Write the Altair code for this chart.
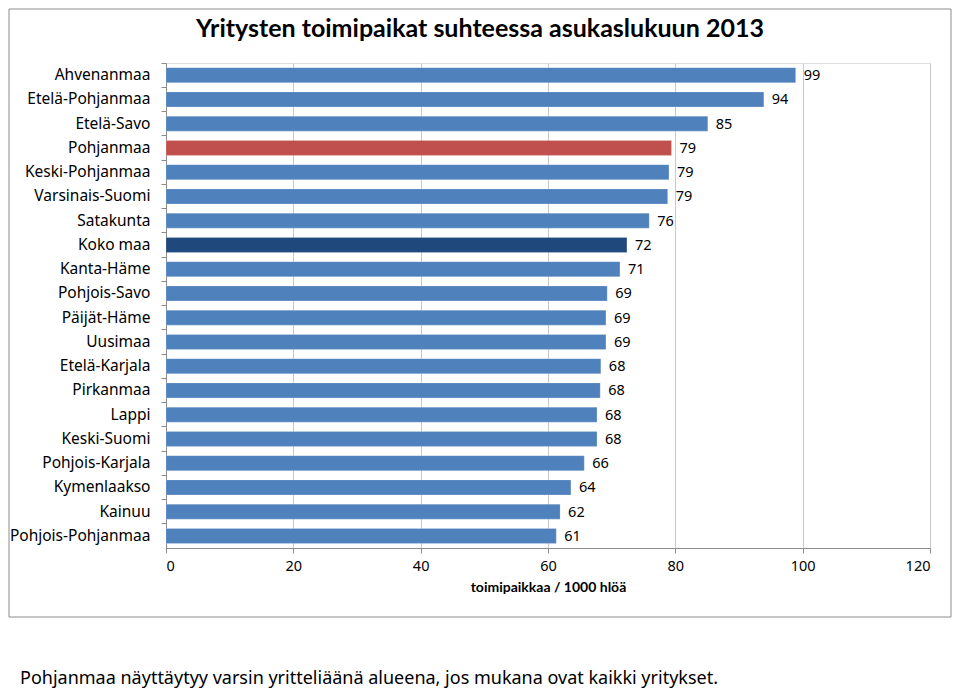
import altair as alt
import pandas as pd

# ---- data ----
regions = [
    "Ahvenanmaa", "Etelä-Pohjanmaa", "Etelä-Savo", "Pohjanmaa", "Keski-Pohjanmaa",
    "Varsinais-Suomi", "Satakunta", "Koko maa", "Kanta-Häme", "Pohjois-Savo",
    "Päijät-Häme", "Uusimaa", "Etelä-Karjala", "Pirkanmaa", "Lappi",
    "Keski-Suomi", "Pohjois-Karjala", "Kymenlaakso", "Kainuu", "Pohjois-Pohjanmaa",
]
values = [98.9, 93.9, 85.1, 79.4, 79.0, 78.8, 75.9, 72.4, 71.3, 69.3,
          69.1, 69.1, 68.3, 68.2, 67.7, 67.7, 65.7, 63.6, 61.9, 61.3]
kinds = ["maakunta"] * len(regions)
kinds[regions.index("Pohjanmaa")] = "Pohjanmaa"
kinds[regions.index("Koko maa")] = "Koko maa"

kind_domain = ["maakunta", "Pohjanmaa", "Koko maa"]
kind_colors = ["#4F81BD", "#C0504D", "#1F497D"]
x_ticks = [0, 20, 40, 60, 80, 100, 120]

title_text = "Yritysten toimipaikat suhteessa asukaslukuun 2013"
x_title = "toimipaikkaa / 1000 hlöä"
caption = "Pohjanmaa näyttäytyy varsin yritteliäänä alueena, jos mukana ovat kaikki yritykset."

df = pd.DataFrame({"alue": regions, "arvo": values, "tyyppi": kinds})

W, H = 764, 485
LABEL_FONT = "Noto Sans"
BOLD_FONT = "Lato"

y_enc = alt.Y(
    "alue:N", sort=regions, title=None,
    scale=alt.Scale(paddingInner=0, paddingOuter=0),
    axis=alt.Axis(
        bandPosition=0, tickSize=5, tickColor="#8c8c8c", domainColor="#8c8c8c",
        labelFont=LABEL_FONT, labelFontSize=15.5, labelColor="#000000",
        labelPadding=11, grid=False,
    ),
)
x_enc = alt.X(
    "arvo:Q", title=x_title,
    scale=alt.Scale(domain=[0, 120], nice=False),
    axis=alt.Axis(
        values=x_ticks, grid=True, gridColor="#c8c8c8", tickSize=5,
        tickColor="#8c8c8c", domainColor="#8c8c8c",
        labelFont=LABEL_FONT, labelFontSize=14.5, labelColor="#000000", labelPadding=6,
        titleFont=BOLD_FONT, titleFontSize=14, titleFontWeight="bold", titleColor="#000000",
        titlePadding=8,
    ),
)

bars = alt.Chart(df).mark_bar(size=15, stroke="#ffffff", strokeWidth=0.5, strokeOpacity=0.4).encode(
    y=y_enc,
    x=x_enc,
    color=alt.Color("tyyppi:N", scale=alt.Scale(domain=kind_domain, range=kind_colors), legend=None),
)

labels = alt.Chart(df).mark_text(
    align="left", baseline="middle", dx=8, dy=1, font=LABEL_FONT, fontSize=14.5, color="#000000"
).encode(
    y=alt.Y("alue:N", sort=regions),
    x=alt.X("arvo:Q"),
    text=alt.Text("arvo:Q", format=".0f"),
)

border = alt.Chart(pd.DataFrame({"k": [0]})).mark_rect(
    filled=False, stroke="#8c8c8c", strokeWidth=1
).encode(
    x=alt.value(-157), x2=alt.value(785), y=alt.value(-54), y2=alt.value(554)
)

title = alt.Chart(pd.DataFrame({"t": [title_text]})).mark_text(
    align="center", baseline="middle", font=BOLD_FONT, fontSize=25, fontWeight="bold",
    color="#000000"
).encode(
    text="t:N", x=alt.value(314), y=alt.value(-34)
)

cap = alt.Chart(pd.DataFrame({"t": [caption]})).mark_text(
    align="left", baseline="alphabetic", font=LABEL_FONT, fontSize=18, color="#000000"
).encode(
    text="t:N", x=alt.value(-146), y=alt.value(621)
)

chart = alt.layer(border, bars, labels, title, cap).properties(
    width=W, height=H,
    autosize=alt.AutoSizeParams(type="none"),
    padding={"left": 158, "top": 55, "right": 22, "bottom": 140},
).configure_view(stroke=None).configure(background="#ffffff")

chart.save("out.html", embed_options={"renderer": "svg", "actions": False})
